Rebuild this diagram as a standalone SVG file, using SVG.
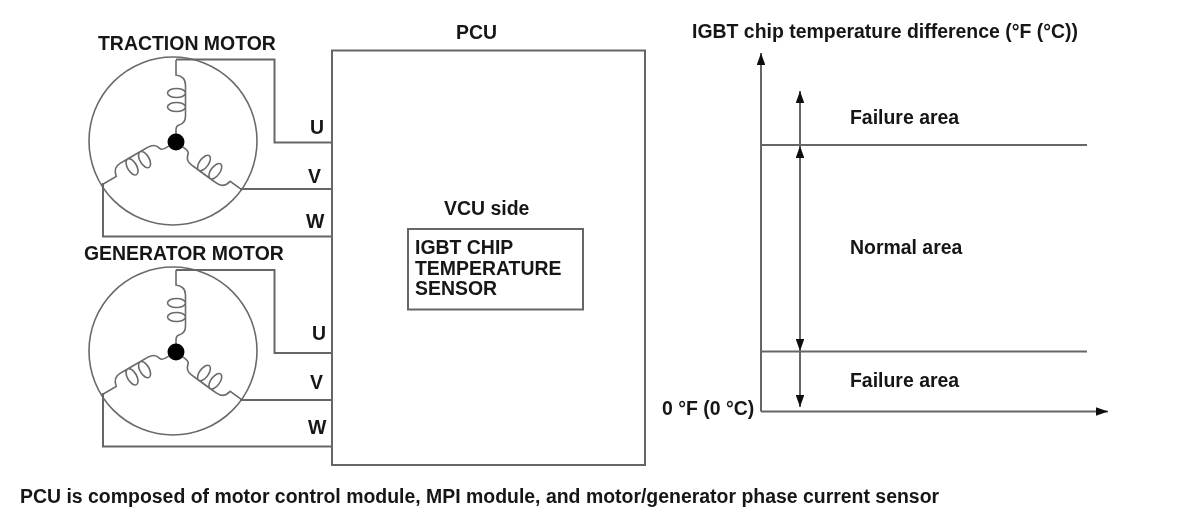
<svg xmlns="http://www.w3.org/2000/svg" xmlns:xlink="http://www.w3.org/1999/xlink" width="1200" height="517" viewBox="0 0 1200 517">
<style>
text{font-family:"Liberation Sans",Arial,sans-serif;font-weight:bold;font-size:19.450px;fill:#151515}
.l{fill:none;stroke:#666;stroke-width:2}
.c{fill:none;stroke:#6a6a6a;stroke-width:1.600}
.a{fill:none;stroke:#666;stroke-width:2}
</style>
<defs>
<filter id="soft" x="0" y="0" width="100%" height="100%"><feGaussianBlur stdDeviation="0.400"/></filter>
<marker id="head" viewBox="0 0 12 8.500" refX="12" refY="4.250" markerWidth="12" markerHeight="8.500" markerUnits="userSpaceOnUse" orient="auto"><path d="M0 0L12 4.250L0 8.500Z" fill="#111"/></marker>
<path id="coil" class="c" d="M0 -82V-67C7 -66 9.500 -62 9.500 -57V-49A9 4.500 0 1 1 -8.500 -49A9 4.500 0 1 1 9.500 -49V-35A9 4.500 0 1 1 -8.500 -35A9 4.500 0 1 1 9.500 -35V-26C9.500 -20 7 -18 3 -17C0 -16 0 -14 0 -12V-8"/>
<g id="stator">
<circle class="c" cx="-3" cy="-1" r="84"/>
<use xlink:href="#coil"/>
<use xlink:href="#coil" transform="rotate(126)"/>
<use xlink:href="#coil" transform="rotate(240) scale(1 1.030)"/>
<circle r="8.500" fill="#000"/>
</g>
</defs>
<g filter="url(#soft)">
<g id="traction-motor">
<use xlink:href="#stator" transform="translate(176 142)"/>
<text x="98" y="50">TRACTION MOTOR</text>
</g>
<g id="generator-motor">
<use xlink:href="#stator" transform="translate(176 352)"/>
<text x="84" y="260">GENERATOR MOTOR</text>
</g>
<g id="pcu">
<rect class="l" x="332" y="50.500" width="313" height="414.500"/>
<text x="456" y="39">PCU</text>
<text x="444" y="215">VCU side</text>
</g>
<g id="igbt-sensor">
<rect class="l" x="408" y="229" width="175" height="80.500"/>
<text x="415" y="254">IGBT CHIP</text>
<text x="415" y="275">TEMPERATURE</text>
<text x="415" y="295">SENSOR</text>
</g>
<g id="phase-labels">
<text x="310" y="134">U</text>
<text x="308" y="183">V</text>
<text x="306" y="228">W</text>
<text x="312" y="340">U</text>
<text x="310" y="389">V</text>
<text x="308" y="434">W</text>
</g>
<g id="connectors">
<path class="l" d="M176 59.500H274.500V142.500H332"/>
<path class="l" d="M240 189H332"/>
<path class="l" d="M103 183V236.500H332"/>
<path class="l" d="M176 270H274.500V353H332"/>
<path class="l" d="M240 400H332"/>
<path class="l" d="M103 393V446.500H332"/>
</g>
<g id="chart">
<path class="a" d="M761 411.500V53" marker-end="url(#head)"/>
<path class="a" d="M761 411.500H1108" marker-end="url(#head)"/>
<path class="l" d="M761 145H1087"/>
<path class="l" d="M761 351.500H1087"/>
<path class="a" d="M800 146V91" marker-end="url(#head)"/>
<path class="a" d="M800 200V146" marker-end="url(#head)"/>
<path class="a" d="M800 200V351" marker-end="url(#head)"/>
<path class="a" d="M800 351V407" marker-end="url(#head)"/>
<text x="692" y="38">IGBT chip temperature difference (°F (°C))</text>
<text x="850" y="124">Failure area</text>
<text x="850" y="254">Normal area</text>
<text x="850" y="387">Failure area</text>
<text x="662" y="415">0 °F (0 °C)</text>
</g>
<text x="20" y="503">PCU is composed of motor control module, MPI module, and motor/generator phase current sensor</text>
</g>
</svg>
